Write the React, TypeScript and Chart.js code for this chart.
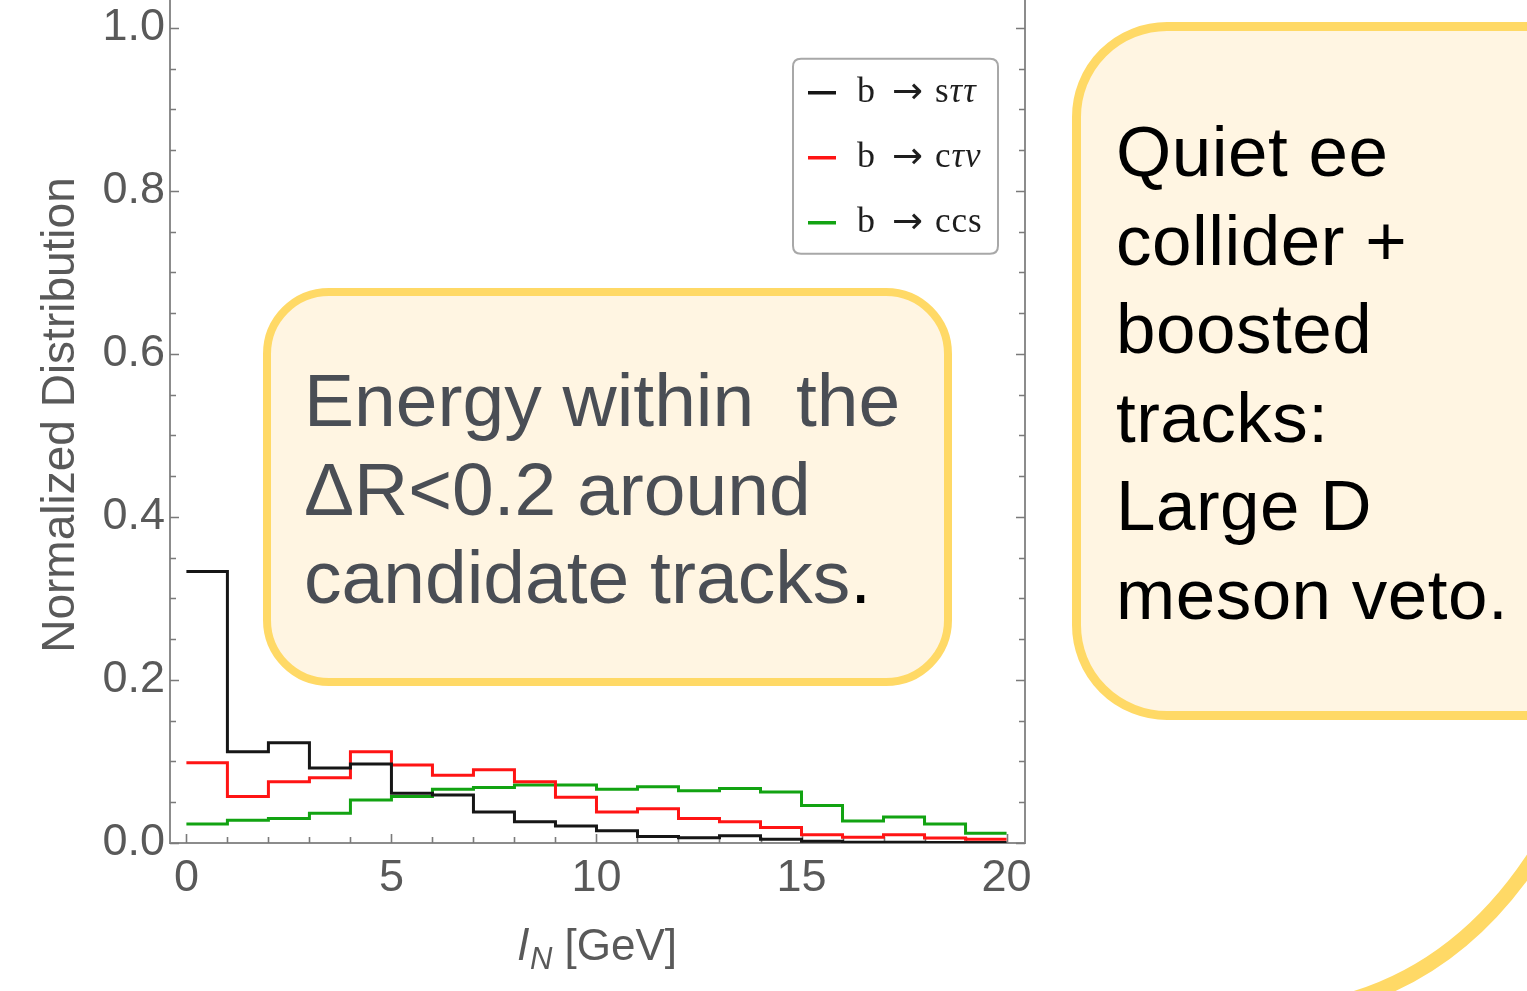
import React, { useEffect, useRef } from "react";
import { Chart, registerables } from "chart.js";

Chart.register(...registerables);

// Histogram bin edges in GeV (20 bins of 1 GeV)
const binEdges = [0, 1, 2, 3, 4, 5, 6, 7, 8, 9, 10, 11, 12, 13, 14, 15, 16, 17, 18, 19, 20];

// Normalized distributions per bin
const sTauTau = [0.333, 0.112, 0.123, 0.092, 0.097, 0.061, 0.059, 0.038, 0.026, 0.021,
  0.015, 0.008, 0.0065, 0.009, 0.0045, 0.002, 0.001, 0.001, 0.0005, 0.0005];
const cTauNu = [0.0985, 0.057, 0.075, 0.080, 0.112, 0.0957, 0.083, 0.090, 0.075, 0.056,
  0.038, 0.042, 0.030, 0.026, 0.019, 0.010, 0.007, 0.010, 0.006, 0.0045];
const ccs = [0.0233, 0.028, 0.030, 0.0364, 0.0528, 0.057, 0.066, 0.068, 0.071, 0.071,
  0.066, 0.069, 0.064, 0.067, 0.0626, 0.046, 0.027, 0.032, 0.0233, 0.012];

const seriesLabels = ["b → sττ", "b → cτν", "b → ccs"];
const seriesColors = ["#161616", "#ff1414", "#12a312"];

const xTickValues = [0, 5, 10, 15, 20];
const yTickValues = [0, 0.2, 0.4, 0.6, 0.8, 1.0];
const yMinorStep = 0.05;
const xMinorStep = 1;

const yTitle = "Normalized Distribution";
const xTitleVar = "l";
const xTitleSub = "N";
const xTitleUnit = " [GeV]";

const centerNote = ["Energy within  the", "ΔR<0.2 around", "candidate tracks"];
const sideNote = ["Quiet ee", "collider +", "boosted", "tracks:", "Large D", "meson veto."];

const SANS = "'Liberation Sans', Arial, Helvetica, sans-serif";
const SERIF = "'Liberation Serif', 'DejaVu Serif', serif";
const AXIS_GREY = "#595959";

const CANVAS_W = 1100;
const CANVAS_H = 1024;
const CANVAS_TOP = -33;
const PLOT_TOP = 20;
const PLOT_BOTTOM = 876;

function stepPoints(values: number[]) {
  const pts = values.map((v, i) => ({ x: binEdges[i], y: v }));
  pts.push({ x: binEdges[values.length], y: values[values.length - 1] });
  return pts;
}

// Mathematica-style frame with inward major/minor ticks on all sides
const frameTicks = {
  id: "frameTicks",
  beforeDatasetsDraw(chart: any) {
    const { ctx, chartArea: a, scales } = chart;
    const xs = scales.x;
    const ys = scales.y;
    ctx.save();
    ctx.strokeStyle = "#8c8c8c";
    ctx.lineWidth = 2;
    ctx.strokeRect(a.left, a.top, a.right - a.left, a.bottom - a.top);
    ctx.strokeStyle = "#7a7a7a";
    ctx.lineWidth = 1.6;
    ctx.beginPath();
    const yCount = Math.round(ys.max / yMinorStep);
    for (let k = 0; k <= yCount; k++) {
      const v = k * yMinorStep;
      const major = k % 4 === 0;
      const len = major ? 9 : 6;
      const py = Math.round(ys.getPixelForValue(v)) + 0.5;
      ctx.moveTo(a.left, py);
      ctx.lineTo(a.left + len, py);
      ctx.moveTo(a.right, py);
      ctx.lineTo(a.right - len, py);
    }
    const xCount = Math.round(20 / xMinorStep);
    for (let k = 0; k <= xCount; k++) {
      const v = k * xMinorStep;
      const major = k % 5 === 0;
      const len = major ? 9 : 6;
      const px = Math.round(xs.getPixelForValue(v)) + 0.5;
      ctx.moveTo(px, a.bottom);
      ctx.lineTo(px, a.bottom - len);
      ctx.moveTo(px, a.top);
      ctx.lineTo(px, a.top + len);
    }
    ctx.stroke();
    ctx.restore();
  },
};

function roundRect(ctx: CanvasRenderingContext2D, x: number, y: number, w: number, h: number, r: number) {
  ctx.beginPath();
  ctx.moveTo(x + r, y);
  ctx.lineTo(x + w - r, y);
  ctx.quadraticCurveTo(x + w, y, x + w, y + r);
  ctx.lineTo(x + w, y + h - r);
  ctx.quadraticCurveTo(x + w, y + h, x + w - r, y + h);
  ctx.lineTo(x + r, y + h);
  ctx.quadraticCurveTo(x, y + h, x, y + h - r);
  ctx.lineTo(x, y + r);
  ctx.quadraticCurveTo(x, y, x + r, y);
  ctx.closePath();
}

// Legend box in the upper right of the plot, drawn from the dataset labels
const insetLegend = {
  id: "insetLegend",
  afterDraw(chart: any) {
    const { ctx, chartArea: a, scales } = chart;
    const top = scales.y.getPixelForValue(1.0) + 31;
    const left = a.right - 232;
    const w = 205;
    const h = 195;
    ctx.save();
    roundRect(ctx, left, top, w, h, 8);
    ctx.fillStyle = "#ffffff";
    ctx.fill();
    ctx.strokeStyle = "#a8a8a8";
    ctx.lineWidth = 2;
    ctx.stroke();
    chart.data.datasets.forEach((ds: any, i: number) => {
      const cy = top + 34 + i * 65;
      ctx.strokeStyle = ds.borderColor;
      ctx.lineWidth = 3.5;
      ctx.beginPath();
      ctx.moveTo(left + 15, cy);
      ctx.lineTo(left + 43, cy);
      ctx.stroke();
      const [lhs, rhs] = String(ds.label).split(" → ");
      const base = cy + 9;
      ctx.fillStyle = "#1e1e1e";
      ctx.textBaseline = "alphabetic";
      ctx.textAlign = "left";
      ctx.font = `36px ${SERIF}`;
      ctx.fillText(lhs, left + 64, base);
      ctx.font = `37px 'DejaVu Sans', sans-serif`;
      ctx.fillText("→", left + 99, base + 1);
      let x = left + 142;
      for (const ch of rhs) {
        const greek = /[\u0370-\u03ff]/.test(ch);
        ctx.font = `${greek ? "italic " : ""}35px ${SERIF}`;
        ctx.fillText(ch, x, base);
        x += ctx.measureText(ch).width + 1;
      }
    });
    ctx.restore();
  },
};

// x-axis title with an italic variable and subscript
const xAxisTitle = {
  id: "xAxisTitle",
  afterDraw(chart: any) {
    const { ctx, chartArea: a } = chart;
    const base = a.bottom + 117;
    ctx.save();
    ctx.fillStyle = AXIS_GREY;
    ctx.textBaseline = "alphabetic";
    ctx.textAlign = "left";
    const fVar = `italic 45px ${SANS}`;
    const fSub = `italic 31px ${SANS}`;
    const fUnit = `44px ${SANS}`;
    ctx.font = fVar;
    const wVar = ctx.measureText(xTitleVar).width;
    ctx.font = fSub;
    const wSub = ctx.measureText(xTitleSub).width;
    ctx.font = fUnit;
    const wUnit = ctx.measureText(xTitleUnit).width;
    const total = wVar + 2 + wSub + wUnit;
    let x = (a.left + a.right) / 2 - total / 2;
    ctx.font = fVar;
    ctx.fillText(xTitleVar, x, base);
    x += wVar + 2;
    ctx.font = fSub;
    ctx.fillText(xTitleSub, x, base + 9);
    x += wSub;
    ctx.font = fUnit;
    ctx.fillText(xTitleUnit, x, base);
    ctx.restore();
  },
};

function HistogramChart() {
  const ref = useRef<HTMLCanvasElement | null>(null);

  useEffect(() => {
    if (!ref.current) return;
    const seriesValues = [sTauTau, cTauNu, ccs];
    const chart = new Chart(ref.current, {
      type: "line",
      data: {
        datasets: seriesValues.map((vals, i) => ({
          label: seriesLabels[i],
          data: stepPoints(vals),
          borderColor: seriesColors[i],
          backgroundColor: seriesColors[i],
          borderWidth: 3,
          pointRadius: 0,
          fill: false,
          stepped: "before" as const,
        })),
      },
      options: {
        responsive: false,
        animation: false,
        events: [],
        layout: { padding: { left: 0, right: 75, top: PLOT_TOP, bottom: 0 } },
        plugins: {
          legend: { display: false },
          tooltip: { enabled: false },
          title: { display: false },
        },
        scales: {
          x: {
            type: "linear",
            min: -0.4,
            max: 20.45,
            grid: { display: false, drawTicks: false },
            border: { display: false },
            afterBuildTicks: (s: any) => {
              s.ticks = xTickValues.map((v) => ({ value: v }));
            },
            afterFit: (s: any) => {
              s.height = CANVAS_H - PLOT_BOTTOM;
              s.paddingLeft = 0;
              s.paddingRight = 0;
            },
            ticks: {
              autoSkip: false,
              maxRotation: 0,
              padding: 9,
              color: AXIS_GREY,
              font: { family: SANS, size: 45 },
              callback: (v: any) => String(v),
            },
          },
          y: {
            type: "linear",
            min: 0,
            max: 1.05,
            grid: { display: false, drawTicks: false },
            border: { display: false },
            afterBuildTicks: (s: any) => {
              s.ticks = yTickValues.map((v) => ({ value: v }));
            },
            afterFit: (s: any) => {
              s.width = 170;
              s.paddingTop = 0;
              s.paddingBottom = 0;
            },
            ticks: {
              padding: 5,
              color: AXIS_GREY,
              font: { family: SANS, size: 45 },
              callback: (v: any) => Number(v).toFixed(1),
            },
            title: {
              display: true,
              text: yTitle,
              color: AXIS_GREY,
              font: { family: SANS, size: 46 },
              padding: { top: 34, bottom: 0 },
            },
          },
        },
      },
      plugins: [frameTicks, insetLegend, xAxisTitle],
    });
    return () => chart.destroy();
  }, []);

  return (
    <canvas
      ref={ref}
      width={CANVAS_W}
      height={CANVAS_H}
      style={{ position: "absolute", left: 0, top: CANVAS_TOP, width: CANVAS_W, height: CANVAS_H }}
    />
  );
}

const BOX_BORDER = "#FFD966";
const BOX_FILL = "#FFF5E2";

export default function App() {
  return (
    <div
      style={{
        position: "absolute",
        left: 0,
        top: 0,
        width: 1527,
        height: 991,
        overflow: "hidden",
        background: "#ffffff",
      }}
    >
      <HistogramChart />

      <div
        style={{
          position: "absolute",
          left: 263,
          top: 288,
          width: 689,
          height: 398,
          boxSizing: "border-box",
          border: `8px solid ${BOX_BORDER}`,
          borderRadius: 66,
          background: BOX_FILL,
        }}
      />
      <div
        style={{
          position: "absolute",
          left: 304,
          top: 356,
          fontFamily: SANS,
          fontSize: 75,
          lineHeight: "88.5px",
          color: "#4a4e55",
          whiteSpace: "pre",
        }}
      >
        {centerNote.map((line, i) => (
          <div key={i}>
            {line}
            {i === centerNote.length - 1 ? <span style={{ color: "#000" }}>.</span> : null}
          </div>
        ))}
      </div>

      <div
        style={{
          position: "absolute",
          left: 1072,
          top: 22,
          width: 560,
          height: 698,
          boxSizing: "border-box",
          border: `9px solid ${BOX_BORDER}`,
          borderRadius: 95,
          background: BOX_FILL,
        }}
      />
      <div
        style={{
          position: "absolute",
          left: 1116,
          top: 108,
          fontFamily: SANS,
          fontSize: 71,
          lineHeight: "88.6px",
          color: "#000",
          whiteSpace: "pre",
          letterSpacing: "0.5px",
        }}
      >
        {sideNote.map((line, i) => (
          <div key={i}>{line}</div>
        ))}
      </div>

      <svg
        width={1527}
        height={991}
        style={{ position: "absolute", left: 0, top: 0, pointerEvents: "none" }}
      >
        <path d="M 1350 1000 Q 1470 965 1545 840" stroke={BOX_BORDER} strokeWidth={15} fill="none" />
      </svg>
    </div>
  );
}
